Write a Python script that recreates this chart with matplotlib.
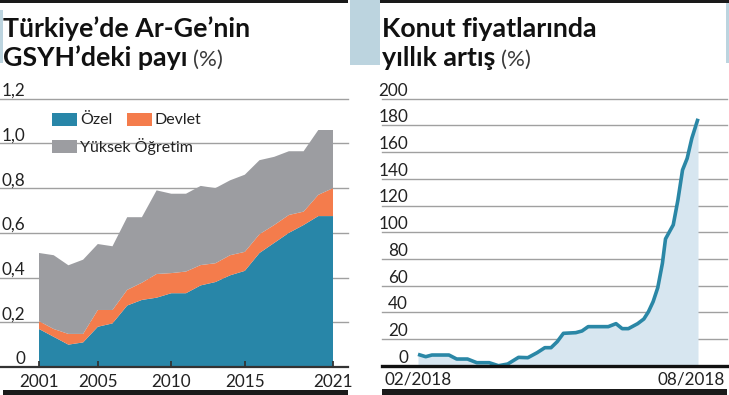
import matplotlib
matplotlib.use("Agg")
import matplotlib.pyplot as plt
import matplotlib.transforms as mtransforms
from matplotlib.patches import Rectangle
import pandas as pd

# --- veri: Ar-Ge'nin GSYH'deki payı (%) ---
yillar = list(range(2001, 2022))
ozel = [0.17, 0.135, 0.10, 0.11, 0.18, 0.195, 0.275, 0.30, 0.31, 0.33, 0.33,
        0.365, 0.38, 0.41, 0.43, 0.51, 0.555, 0.60, 0.635, 0.675, 0.675]
devlet = [0.035, 0.035, 0.048, 0.038, 0.075, 0.06, 0.07, 0.077, 0.106, 0.09, 0.097,
          0.091, 0.084, 0.09, 0.085, 0.084, 0.08, 0.08, 0.06, 0.095, 0.125]
yuksek = [0.305, 0.33, 0.307, 0.332, 0.295, 0.285, 0.325, 0.293, 0.374, 0.355, 0.348,
          0.354, 0.336, 0.335, 0.345, 0.331, 0.305, 0.285, 0.27, 0.29, 0.26]
seri_adlari = ["Özel", "Devlet", "Yüksek Öğretim"]
sol_yticks = [0, 0.2, 0.4, 0.6, 0.8, 1.0, 1.2]
sol_ylabels = ["0", "0,2", "0,4", "0,6", "0,8", "1,0", "1,2"]
sol_xticks = [2001, 2005, 2010, 2015, 2021]

# --- veri: Konut fiyatlarında yıllık artış (%) ---
tarihler = ["2018-02-01", "2018-02-06", "2018-02-10", "2018-02-21", "2018-02-26",
            "2018-03-05", "2018-03-11", "2018-03-19", "2018-03-25", "2018-03-31",
            "2018-04-07", "2018-04-13", "2018-04-19", "2018-04-24", "2018-04-28",
            "2018-05-02", "2018-05-06", "2018-05-14", "2018-05-18", "2018-05-22",
            "2018-06-04", "2018-06-09", "2018-06-13", "2018-06-17", "2018-06-23",
            "2018-06-27", "2018-06-30", "2018-07-03", "2018-07-06", "2018-07-09",
            "2018-07-11", "2018-07-16", "2018-07-19", "2018-07-22", "2018-07-25",
            "2018-07-28", "2018-08-01"]
artis = [8.5, 6.75, 8, 8, 5, 5, 2.25, 2.25, 0, 1.25,
         6.25, 6, 9.75, 13.5, 13.5, 18, 24.25, 24.75, 26, 29.25,
         29.25, 31.5, 27.75, 27.75, 31.5, 35, 40.5, 48, 58.5, 76.75,
         95, 105.5, 124, 146.6, 155.3, 170.3, 185]
sag_yticks = list(range(0, 201, 20))
sag_xlabels = ["02/2018", "08/2018"]

MAVI = "#2886a8"
TURUNCU = "#f47c4c"
GRI = "#9c9da1"
CIZGI = "#2a87a6"
DOLGU = "#d7e6f0"
ACIK_MAVI = "#bcd4df"
GRID = "#a0a0a0"
KOYU = "#1a1a1a"
YAZI = "#222222"
FONT = "Lato"

W, H = 729, 395
fig = plt.figure(figsize=(W / 100, H / 100), dpi=100)
plt.rcParams["font.family"] = [FONT, "DejaVu Sans"]


def fx(x):
    return x / W


def fy(y):
    return 1 - y / H


# arka plandaki açık mavi şeritler ve siyah çizgiler
for x0, y0, x1, y1, c in [(350, 0, 380, 65, ACIK_MAVI), (726, 0, 729, 63, ACIK_MAVI),
                          (0, 10, 3, 63, ACIK_MAVI),
                          (0, 0, 348, 2.5, KOYU), (380, 0, 729, 2.5, KOYU),
                          (3, 390, 348, 395, KOYU), (382, 389, 727, 395, KOYU)]:
    fig.add_artist(Rectangle((fx(x0), fy(y1)), fx(x1) - fx(x0), fy(y0) - fy(y1),
                             transform=fig.transFigure, color=c, lw=0))

renderer = fig.canvas.get_renderer()


def baslik(x, y, kalin, ince):
    t = fig.text(fx(x), fy(y), kalin, fontsize=19.3, fontweight="bold",
                 color="#111111", va="baseline", ha="left")
    if ince:
        bb = t.get_window_extent(renderer)
        fig.text(bb.x1 / W + fx(6), fy(y), ince, fontsize=16, fontweight="normal",
                 color="#3a3a3a", va="baseline", ha="left")


baslik(3, 37, "Türkiye’de Ar-Ge’nin", None)
baslik(3, 66, "GSYH’deki payı", "(%)")
baslik(382, 37, "Konut fiyatlarında", None)
baslik(382, 66, "yıllık artış", "(%)")

# ---------------- sol grafik ----------------
ax1 = fig.add_axes([fx(0), fy(367), fx(348), (367 - 98.7) / H])
ax1.stackplot(yillar, ozel, devlet, yuksek, colors=[MAVI, TURUNCU, GRI],
              linewidth=0, zorder=1)
ax1.set_xlim(2001 - 39 / 14.7, 2001 + (348 - 39) / 14.7)
ax1.set_ylim(0, 1.2)
for s in ax1.spines.values():
    s.set_visible(False)
for v in sol_yticks[1:]:
    ax1.axhline(v, color=GRID, lw=1, zorder=0.5, clip_on=False)
ax1.axhline(0, color="#333333", lw=1.6, zorder=3, clip_on=False)
ax1.set_yticks([])
ax1.set_xticks(sol_xticks)
ax1.set_xticklabels([str(y) for y in sol_xticks], fontsize=12.3, color=YAZI)
ax1.tick_params(axis="x", direction="in", length=4, width=1.3, color="#333333", pad=5)
tr1 = mtransforms.offset_copy(ax1.get_yaxis_transform(), fig=fig, y=3, units="dots")
for v, lab in zip(sol_yticks, sol_ylabels):
    ax1.text(25 / 348, v, lab, transform=tr1, ha="right", va="baseline",
             fontsize=12.3, color=YAZI)

# lejant (elle)
for (x0, y0), ad, c in zip([(52, 113), (127, 113), (52, 140)], seri_adlari,
                           [MAVI, TURUNCU, GRI]):
    fig.add_artist(Rectangle((fx(x0), fy(y0 + 13)), fx(25), 13 / H,
                             transform=fig.transFigure, color=c, lw=0))
    fig.text(fx(x0 + 28), fy(y0 + 6.5), ad, fontsize=11.5, color=YAZI,
             va="center", ha="left")

# ---------------- sağ grafik ----------------
t = pd.to_datetime(tarihler)
ax2 = fig.add_axes([fx(382), fy(365.7), (727 - 382) / W, (365.7 - 98.7) / H])
ax2.fill_between(t, 0, artis, color=DOLGU, lw=0, zorder=1)
ax2.plot(t, artis, color=CIZGI, lw=2.6, zorder=2, solid_capstyle="butt")
gun_px = (t[-1] - t[0]) / 280
ax2.set_xlim(t[0] - gun_px * 36, t[-1] + gun_px * 29)
ax2.set_ylim(0, 200)
for s in ax2.spines.values():
    s.set_visible(False)
for v in sag_yticks[1:]:
    ax2.axhline(v, color=GRID, lw=1, zorder=0.5, clip_on=False)
ax2.axhline(0, color="#111111", lw=2.4, zorder=3, clip_on=False)
ax2.set_yticks([])
ax2.set_xticks([])
# tarih etiketleri: ilki başlangıç noktasına ortalı, sonuncusu sağ kenara yaslı
alt = mtransforms.offset_copy(ax2.get_xaxis_transform(), fig=fig, y=-19, units="dots")
ax2.text(t[0], 0, sag_xlabels[0], transform=alt, ha="center", va="baseline",
         fontsize=12.3, color=YAZI)
alt_sag = mtransforms.offset_copy(ax2.transAxes, fig=fig, y=-19, units="dots")
ax2.text((725 - 382) / 345, 0, sag_xlabels[1], transform=alt_sag, ha="right",
         va="baseline", fontsize=12.3, color=YAZI)
tr2 = mtransforms.offset_copy(ax2.get_yaxis_transform(), fig=fig, y=3, units="dots")
for v in sag_yticks:
    ax2.text(26 / 345, v, str(v), transform=tr2, ha="right", va="baseline",
             fontsize=12.3, color=YAZI)

fig.savefig("out.png", dpi=100)
